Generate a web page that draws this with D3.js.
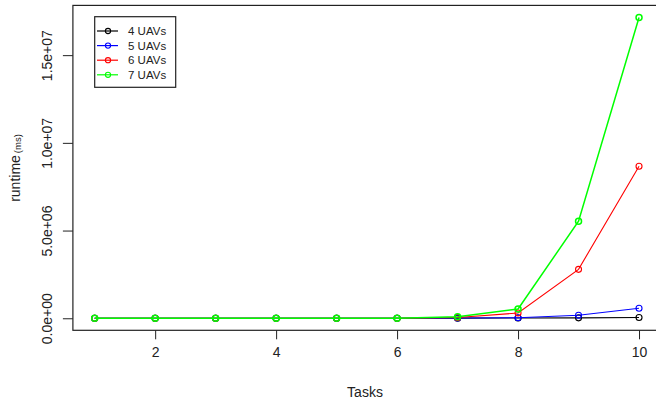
<!DOCTYPE html>
<html>
<head>
<meta charset="utf-8">
<script src="https://cdn.jsdelivr.net/npm/d3@7"></script>
<style>
  body { margin: 0; background: #fff; }
  svg { display: block; font-family: 'Liberation Sans', Arial, sans-serif; }
</style>
</head>
<body>
<div id="chart"></div>
<script>
// tasks on the x axis
const tasks = [1, 2, 3, 4, 5, 6, 7, 8, 9, 10];
// runtime (ms) per number of UAVs
const uav4 = [300, 500, 800, 1200, 2000, 3000, 6000, 12000, 25000, 40000];
const uav5 = [300, 500, 800, 1200, 2000, 3000, 15000, 30000, 170000, 570000];
const uav6 = [300, 500, 800, 1200, 2000, 3000, 40000, 300000, 2790000, 8670000];
const uav7 = [300, 500, 800, 1200, 2000, 3000, 90000, 530000, 5530000, 17150000];
const seriesNames = ['4 UAVs', '5 UAVs', '6 UAVs', '7 UAVs'];
const seriesColors = ['#000000', '#0000ff', '#ff0000', '#00ff00'];
const yTicks = [0, 5e6, 1e7, 1.5e7];
const yTickLabels = ['0.0e+00', '5.0e+06', '1.0e+07', '1.5e+07'];
const xTicks = [2, 4, 6, 8, 10];

const allSeries = [uav4, uav5, uav6, uav7];

const W = 656, H = 402;
const mLeft = 72.9, mRight = 660.8, mTop = 5.4, mBottom = 330.3;

const svg = d3.select('#chart').append('svg').attr('width', W).attr('height', H);

// R style 4% axis extension
const xExt = d3.extent(tasks), xPad = (xExt[1] - xExt[0]) * 0.04;
const yMax = d3.max(allSeries, s => d3.max(s)), yPad = yMax * 0.04;
const x = d3.scaleLinear().domain([xExt[0] - xPad, xExt[1] + xPad]).range([mLeft, mRight]);
const y = d3.scaleLinear().domain([-yPad, yMax + yPad]).range([mBottom, mTop]);

// 坐标轴
const gx = svg.append('g').attr('transform', 'translate(0,' + mBottom + ')')
  .call(d3.axisBottom(x).tickValues(xTicks).tickSize(9).tickPadding(8).tickFormat(d3.format('d')));
const gy = svg.append('g').attr('transform', 'translate(' + mLeft + ',0)')
  .call(d3.axisLeft(y).tickValues(yTicks).tickSize(10).tickFormat((d, i) => yTickLabels[i]));
[gx, gy].forEach(g => {
  g.select('.domain').remove();
  g.selectAll('.tick line').attr('stroke', '#222').attr('stroke-width', 1);
  g.selectAll('.tick text').attr('fill', '#222').style('font-size', '14px')
    .style('font-family', "'Liberation Sans', Arial, sans-serif");
});
gy.selectAll('.tick text')
  .attr('x', null).attr('dy', null)
  .attr('text-anchor', 'middle')
  .attr('transform', 'translate(-21,0) rotate(-90)');

// 边框
svg.append('rect').attr('x', mLeft).attr('y', mTop)
  .attr('width', mRight - mLeft).attr('height', mBottom - mTop)
  .attr('fill', 'none').attr('stroke', '#222').attr('stroke-width', 1.2);

// 折线 + 圆点; the top series is a touch wider so it hides the ones under it
const line = d3.line().x((d, i) => x(tasks[i])).y(d => y(d));
allSeries.forEach((s, k) => {
  const sw = k === allSeries.length - 1 ? 1.5 : 1.1;
  const g = svg.append('g');
  g.append('path').datum(s).attr('d', line)
    .attr('fill', 'none').attr('stroke', seriesColors[k]).attr('stroke-width', sw);
  g.selectAll('circle').data(s).enter().append('circle')
    .attr('cx', (d, i) => x(tasks[i])).attr('cy', d => y(d)).attr('r', 3)
    .attr('fill', 'none').attr('stroke', seriesColors[k]).attr('stroke-width', sw);
});

// 轴标题
svg.append('text').attr('x', 365).attr('y', 397).attr('text-anchor', 'middle')
  .style('font-size', '14px').attr('fill', '#222').text('Tasks');
const yl = svg.append('text').attr('transform', 'translate(20,168) rotate(-90)')
  .attr('text-anchor', 'middle').attr('fill', '#222').style('font-size', '14px');
yl.append('tspan').text('runtime');
yl.append('tspan').attr('dx', 2).attr('dy', 1).style('font-size', '9.5px').text('(ms)');

// 图例
const lg = svg.append('g');
lg.append('rect').attr('x', 94.7).attr('y', 16.7).attr('width', 81).attr('height', 70.6)
  .attr('fill', '#fff').attr('stroke', '#222').attr('stroke-width', 1.2);
seriesNames.forEach((name, k) => {
  const ly = 31 + k * 14.6;
  lg.append('line').attr('x1', 97).attr('x2', 118).attr('y1', ly).attr('y2', ly)
    .attr('stroke', seriesColors[k]).attr('stroke-width', 1.2);
  lg.append('circle').attr('cx', 108).attr('cy', ly).attr('r', 2.6)
    .attr('fill', 'none').attr('stroke', seriesColors[k]).attr('stroke-width', 1.1);
  lg.append('text').attr('x', 128).attr('y', ly + 4).style('font-size', '11.5px')
    .attr('fill', '#222').text(name);
});
</script>
</body>
</html>
